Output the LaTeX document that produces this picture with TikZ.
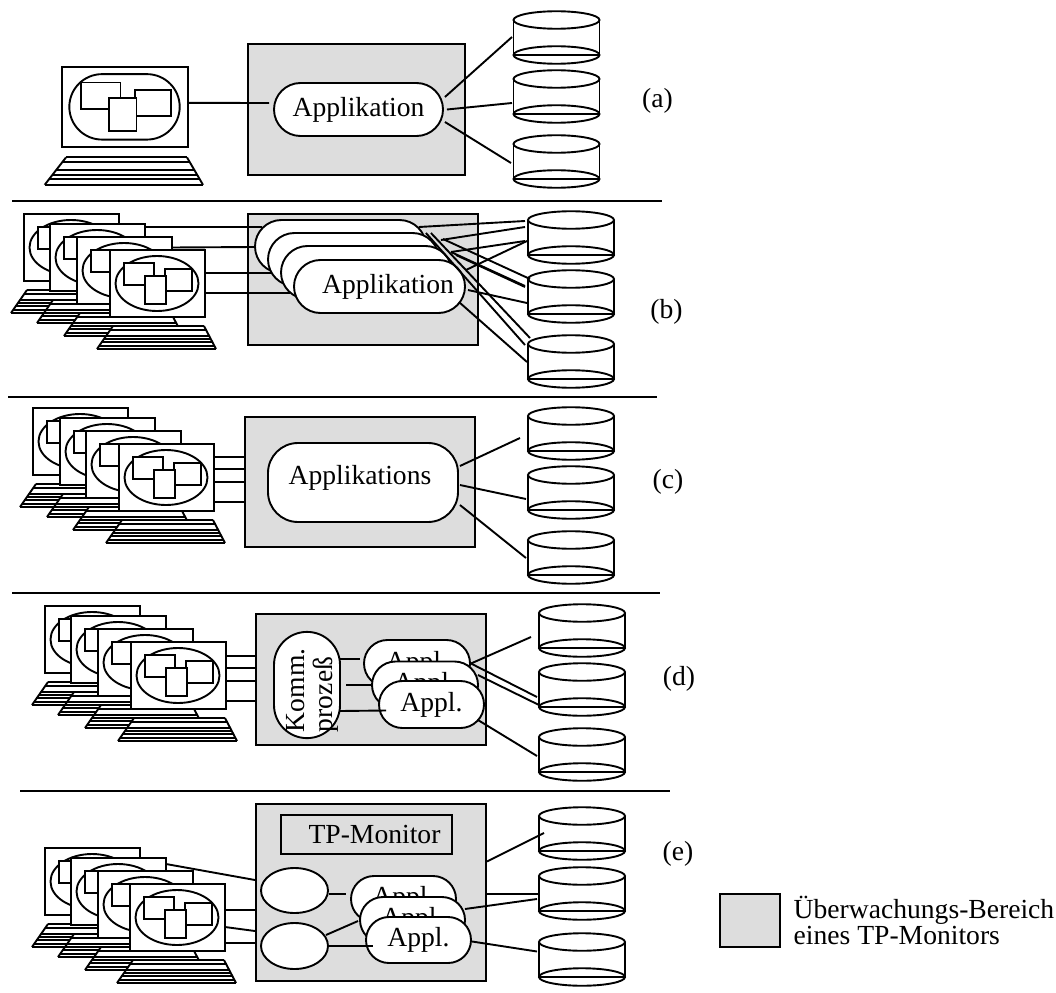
\documentclass[tikz,border=0pt]{standalone}
\usepackage{fontspec}
\setmainfont{Liberation Serif}
\usepackage{xcolor}
\usetikzlibrary{shapes.geometric, shapes.misc, positioning, calc}
\definecolor{regiongray}{HTML}{DDDDDD}
\tikzset{
    conn/.style={line width=1.9pt},
    region/.style={rectangle, draw, fill=regiongray, line width=2pt, inner sep=0pt},
    app/.style={rounded rectangle, draw, fill=white, line width=1.9pt, inner sep=0pt},
    diskbox/.style={rectangle, minimum width=92pt, minimum height=53pt, inner sep=0pt, outer sep=0pt},
    screen/.style={rectangle, draw, fill=white, line width=1.9pt, inner sep=0pt, outer sep=0pt, anchor=north west}
}
\newcommand{\keylines}{0,.16,.42,.56,.7,.85,1}
% optional shape of the blob, name, top left corner, x and y scale
\newcommand{\terminal}[6][ellipse]{
    \begin{scope}[shift={(#3,#4)}, xscale=#5, yscale=#6]
        \fill [white] (3,76) -- (94,76) -- (106,99) -- (-13,99) -- cycle;
        \draw [conn] (3,76) -- (-13,99) (94,76) -- (106,99);
        \foreach \f in \keylines
            \draw [conn] ({3-16*\f},{76+23*\f}) -- ({94+12*\f},{76+23*\f});
        \node (#2) [screen, minimum width=#5*95pt, minimum height=#6*67pt] at (0,0) {};
        \node [#1, draw, fill=white, line width=1.9pt, inner sep=0pt, minimum width=#5*83pt, minimum height=#6*55pt] at (47,33.5) {};
        \draw [conn, fill=white] (14,13) rectangle (44,35);
        \draw [conn, fill=white] (55,19) rectangle (82,41);
        \draw [conn, fill=white] (35,26) rectangle (56,54);
    \end{scope}
}
% name, placement
\newcommand{\disk}[2]{
    \node (#1) [diskbox, #2] {};
    \draw [conn, fill=white] ($(#1.center)+(-43,-17.5)$) -- ($(#1.center)+(-43,17.5)$) -- ($(#1.center)+(43,17.5)$) -- ($(#1.center)+(43,-17.5)$);
    \draw [conn] ($(#1.center)+(0,-17.5)$) ellipse (43 and 8.75);
    \draw [conn] ($(#1.center)+(0,17.5)$) ellipse (43 and 8.75);
}
\newcommand{\wire}[4]{\draw [conn] ($(#1)+(#2)$) -- ($(#3)+(#4)$);}

\begin{document}
\begin{tikzpicture}[x=1pt, y=-1pt,
        every node/.style={font=\fontsize{27.6}{28}\selectfont}
    ]
    \useasboundingbox (0,0) rectangle (1056,992);

    % --- Panel (a) ---
    \node (rega) [region, minimum width=217pt, minimum height=131pt] at (356.5,109.5) {};
    \begingroup
    \renewcommand{\keylines}{0,.16,.47,.63,.8,1}
    \terminal[rounded rectangle]{scra}{62}{67}{1.33}{1.19}
    \endgroup
    \node (appa) [app, minimum width=169pt, minimum height=53pt] at (358.5,109.5) {\raisebox{3pt}{Applikation}};
    \disk{dba1}{at={(556.5,37.5)}}
    \disk{dba2}{below=6pt of dba1}
    \disk{dba3}{below=12pt of dba2}
    \wire{scra.east}{0,-4}{appa.west}{-4,-6.5}
    \wire{appa.east}{1,-12.5}{dba1.west}{1.5,-.5}
    \wire{appa.east}{3,0}{dba2.west}{1.5,6.5}
    \wire{appa.east}{1,12.5}{dba3.west}{.5,1.5}
    \node (taga) at (657.5,101) {(a)};
    \draw [conn] (12,201) -- (662,201);

    % --- Panel (b) ---
    \node (regb) [region, minimum width=230pt, minimum height=131pt] at (363,279.5) {};
    \terminal{scrb1}{24}{214}{1}{1}
    \terminal{scrb2}{50}{224}{1}{1}
    \terminal{scrb3}{77}{237}{1}{1}
    \terminal{scrb4}{110}{250}{1}{1}
    \wire{scrb2.east}{0,-30.5}{regb.west}{14.5,-52.5}
    \wire{scrb3.east}{0,-23}{regb.west}{7,-32.5}
    \wire{scrb4.east}{0,-10.5}{regb.west}{23.7,-6.5}
    \wire{scrb4.east}{0,9.5}{regb.west}{43,13.5}
    \node (appb1) [app, minimum width=171pt, minimum height=53pt] at (340.5,246.5) {};
    \node (appb2) [app, minimum width=171pt, minimum height=53pt] at (353.5,259.5) {};
    \node (appb3) [app, minimum width=171pt, minimum height=53pt] at (366.5,272.5) {};
    \node (appb4) [app, minimum width=171pt, minimum height=53pt] at (379.5,286.5) {\hspace*{17pt}\raisebox{3pt}{Applikation}};
    \disk{dbb1}{at={(571,237.5)}}
    \disk{dbb2}{below=6pt of dbb1}
    \disk{dbb3}{below=12pt of dbb2}
    \wire{appb1.east}{-8,-19.5}{dbb1.west}{0,-16.5}
    \wire{appb2.east}{1,-19.5}{dbb1.west}{0,-10.5}
    \wire{appb4.east}{0,-16.5}{dbb1.west}{2,3.5}
    \wire{appb3.east}{-2,-20.5}{dbb1.west}{0,3.5}
    \wire{appb2.east}{3,-20.5}{dbb2.west}{5,-17.5}
    \wire{appb3.east}{-2,-20.5}{dbb2.west}{0,-10.5}
    \wire{appb4.east}{-10,-31.5}{dbb2.west}{0,-9.5}
    \wire{appb4.east}{2,3.5}{dbb2.west}{2,6.5}
    \wire{appb1.east}{-1,-13.5}{dbb3.west}{0,-16.5}
    \wire{appb1.east}{4,-13.5}{dbb3.west}{5,-23.5}
    \wire{appb4.east}{-7,15.5}{dbb3.west}{2,.5}
    \node (tagb) at (666.5,312) {(b)};
    \draw [conn] (8,397) -- (657,397);

    % --- Panel (c) ---
    \node (regc) [region, minimum width=230pt, minimum height=130pt] at (360,482) {};
    \terminal{scrc1}{33}{408}{1}{1}
    \terminal{scrc2}{60}{418}{1}{1}
    \terminal{scrc3}{86}{431}{1}{1}
    \terminal{scrc4}{119}{444}{1}{1}
    \wire{scrc4.east}{0,-20.5}{regc.west}{0,-25}
    \wire{scrc4.east}{0,-8.5}{regc.west}{0,-13}
    \wire{scrc4.east}{0,4.5}{regc.west}{0,0}
    \wire{scrc4.east}{0,24.5}{regc.west}{0,20}
    \node (appc) [rectangle, rounded corners=30pt, draw, fill=white, line width=1.9pt, minimum width=190pt, minimum height=79pt, inner sep=0pt] at (363,482.5) {\raisebox{15pt}{Applikations\hspace*{6pt}}};
    \disk{dbc1}{at={(571,433.5)}}
    \disk{dbc2}{below=6pt of dbc1}
    \disk{dbc3}{below=12pt of dbc2}
    \wire{appc.east}{1,-16.5}{dbc1.west}{-5,4.5}
    \wire{appc.east}{1,2.5}{dbc2.west}{1,6.5}
    \wire{appc.east}{1,22.5}{dbc3.west}{1,.5}
    \node (tagc) at (668,482) {(c)};
    \draw [conn] (12,593) -- (660,593);

    % --- Panel (d) ---
    \node (regd) [region, minimum width=230pt, minimum height=131pt] at (371,679.5) {};
    \terminal{scrd1}{45}{606}{1}{1}
    \terminal{scrd2}{71}{616}{1}{1}
    \terminal{scrd3}{98}{629}{1}{1}
    \terminal{scrd4}{131}{642}{1}{1}
    \wire{scrd4.east}{0,-19.5}{regd.west}{0,-23.5}
    \wire{scrd4.east}{0,-7.5}{regd.west}{0,-11.5}
    \wire{scrd4.east}{0,5.5}{regd.west}{0,1.5}
    \wire{scrd4.east}{0,25.5}{regd.west}{0,21.5}
    \node (kommd) [app, rotate=90, minimum height=66pt, text width=88pt, inner xsep=6pt, align=left] at (307,685) {\hspace*{-3pt}\raisebox{-11.5pt}[0pt][0pt]{Komm.}\\\hspace*{-3pt}\raisebox{-11.5pt}[0pt][0pt]{proze\ss}};
    \node (appd1) [app, minimum width=106pt, minimum height=47pt] at (417,663.5) {\raisebox{4pt}{Appl.}};
    \node (appd2) [app, minimum width=106pt, minimum height=47pt] at (425,685) {\raisebox{4pt}{Appl.}};
    \node (appd3) [app, minimum width=105pt, minimum height=47pt] at (431.5,704.5) {\raisebox{5pt}{Appl.}};
    \disk{dbd1}{at={(582,630.5)}}
    \disk{dbd2}{below=6pt of dbd1}
    \disk{dbd3}{below=12pt of dbd2}
    \wire{kommd.center}{33,-26}{appd1.west}{-3,-4.5}
    \wire{kommd.center}{39,0}{appd2.west}{0,0}
    \wire{kommd.center}{33,26}{appd3.west}{8,6}
    \wire{appd1.east}{0,0}{dbd1.west}{-5,6.5}
    \wire{appd1.east}{0,0}{dbd2.west}{1,7.5}
    \wire{appd2.east}{-1,-10}{dbd2.west}{3,15.5}
    \wire{appd3.east}{-7,15.5}{dbd3.west}{1,1.5}
    \node (tagd) at (679,679) {(d)};
    \draw [conn] (20,791) -- (670,791);

    % --- Panel (e) ---
    \node (rege) [region, minimum width=230pt, minimum height=177pt] at (371,892.5) {};
    \terminal{scre1}{45}{848}{1}{1}
    \terminal{scre2}{71}{858}{1}{1}
    \terminal{scre3}{98}{871}{1}{1}
    \terminal{scre4}{130}{884}{1}{1}
    \wire{scre2.east}{0,-27.5}{rege.west}{0,-12.5}
    \wire{scre4.east}{0,-7.5}{rege.west}{0,17.5}
    \wire{scre4.east}{0,9.5}{rege.west}{0,38.5}
    \wire{scre4.east}{0,25.5}{rege.west}{0,50.5}
    \node (tpm) [rectangle, draw, line width=2pt, minimum width=171pt, minimum height=39pt, inner sep=0pt] at (366.5,834.5) {\hspace*{16pt}TP-Monitor};
    \node (elle1) [ellipse, draw, fill=white, line width=1.9pt, minimum width=67pt, minimum height=45pt, inner sep=0pt] at (294.5,890.5) {};
    \node (elle2) [ellipse, draw, fill=white, line width=1.9pt, minimum width=67pt, minimum height=46pt, inner sep=0pt] at (294.5,946) {};
    \node (appe1) [app, minimum width=105pt, minimum height=46pt] at (403.5,899) {\raisebox{4pt}{Appl.}};
    \node (appe2) [app, minimum width=105pt, minimum height=46pt] at (412.5,920) {\raisebox{4pt}{Appl.}};
    \node (appe3) [app, minimum width=105pt, minimum height=46pt] at (418.5,940) {\raisebox{5pt}{Appl.}};
    \disk{dbe1}{at={(582,833.5)}}
    \disk{dbe2}{below=7pt of dbe1}
    \disk{dbe3}{below=13pt of dbe2}
    \wire{elle1.east}{0,3.5}{appe1.west}{-4,-5}
    \wire{elle2.east}{-3,-11}{appe2.west}{-1,1}
    \wire{elle2.east}{0,0}{appe3.west}{8,6}
    \wire{rege.east}{0,-31}{dbe1.west}{8,-.5}
    \wire{rege.east}{0,1.5}{dbe2.west}{2,.5}
    \wire{appe2.east}{-1,-11}{dbe2.west}{1,5.5}
    \wire{appe3.east}{0,1.5}{dbe3.west}{1,-8}
    \node (tage) at (678,854) {(e)};

    % --- Legend ---
    \node (legbox) [region, minimum width=60pt, minimum height=53pt] at (749.5,920.5) {};
    \node (legtxt) [right=13pt of legbox, align=left, inner sep=0pt, font=\fontsize{27.6}{26}\selectfont] {\"Uberwachungs-Bereich\\eines TP-Monitors};
\end{tikzpicture}
\end{document}
